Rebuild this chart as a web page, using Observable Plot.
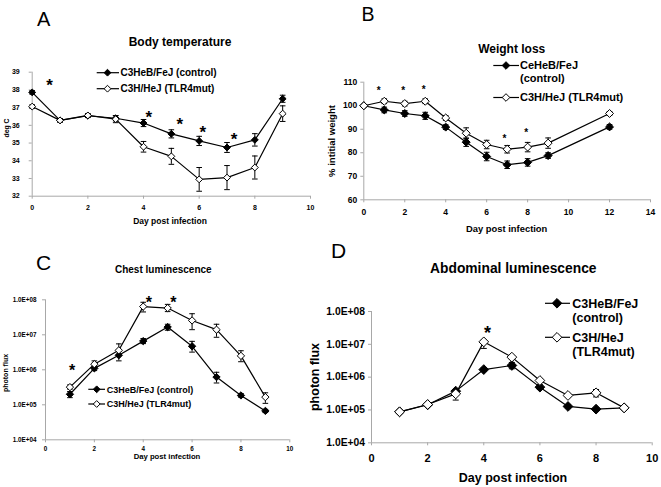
<!DOCTYPE html>
<html><head><meta charset="utf-8">
<script src="https://cdn.jsdelivr.net/npm/d3@7"></script>
<script src="https://cdn.jsdelivr.net/npm/@observablehq/plot@0.6"></script>
<style>
html,body{margin:0;padding:0;background:#fff;}
#wrap{position:relative;width:661px;height:487px;overflow:hidden;background:#fff;}
#wrap .pnl{position:absolute;}
#overlay{position:absolute;left:0;top:0;pointer-events:none;}
</style></head><body><div id="wrap"></div>
<script>
// ---------- Panel A: body temperature ----------
const tempDays = [0,1,2,3,4,5,6,7,8,9];
const tempControl = [37.86,36.28,36.54,36.4,36.13,35.52,35.12,34.75,35.18,37.5];
const tempControlErr = [0.1,0.1,0.1,0.15,0.2,0.23,0.26,0.28,0.35,0.2];
const tempMutant = [37.06,36.28,36.56,36.35,34.79,34.25,32.95,33.05,33.62,36.66];
const tempMutantErr = [0.1,0.1,0.1,0.2,0.3,0.45,0.67,0.68,0.65,0.44];
const tempStarX = [0.62,4.19,5.3,6.13,7.25];
const tempStarY = [38.48,36.7,36.3,35.85,35.44];

// ---------- Panel B: weight loss ----------
const weightDays = [0,1,2,3,4,5,6,7,8,9,12];
const weightControl = [100,98.2,96.7,95.7,90.9,84.5,78.4,74.9,75.9,78.8,91.0];
const weightControlErr = [0.5,1.2,1.2,1.5,1,1.8,1.8,1.6,1.6,1.2,1];
const weightMutant = [100,101.9,100.9,101.9,94.8,88.3,83.5,81.5,82.4,84.1,96.7];
const weightMutantErr = [0.5,1,1,1,1,2.3,1.8,1.6,2,2.2,0.8];
const weightStarX = [0.73,1.92,2.93,6.87,7.93];
const weightStarY = [107.3,107.3,108.0,86.9,89.8];

// ---------- Panel C: chest luminescence ----------
const lumDays = [1,2,3,4,5,6,7,8,9];
const chestControl = [2.0e5,1.1e6,2.6e6,6.6e6,1.66e7,4.7e6,6.2e5,1.85e5,6.7e4];
const chestControlLo = [1.6e5,9.5e5,1.8e6,5.6e6,1.35e7,3.2e6,4.2e5,1.65e5,6.0e4];
const chestControlHi = [2.4e5,1.3e6,3.4e6,7.8e6,2.0e7,6.5e6,8.5e5,2.1e5,7.4e4];
const chestMutant = [3.2e5,1.45e6,3.6e6,6.4e7,5.8e7,2.57e7,1.4e7,2.5e6,1.66e5];
const chestMutantLo = [2.8e5,1.2e6,2.7e6,4.5e7,4.6e7,1.4e7,8.5e6,1.7e6,1.1e5];
const chestMutantHi = [3.7e5,1.8e6,5.5e6,8.5e7,7.4e7,4.0e7,2.0e7,3.5e6,2.2e5];
const chestStarX = [1.09,4.23,5.23];
const chestStarY = [1.24e6,1.1e8,1.1e8];

// ---------- Panel D: abdominal luminescence ----------
const abdControl = [8.8e4,1.44e5,3.75e5,1.7e6,2.27e6,4.96e5,1.28e5,1.06e5,1.16e5];
const abdControlLo = [8.3e4,1.35e5,3.4e5,1.5e6,1.8e6,4.2e5,1.15e5,1.0e5,1.1e5];
const abdControlHi = [9.3e4,1.55e5,4.1e5,1.9e6,2.8e6,5.8e5,1.45e5,1.15e5,1.22e5];
const abdMutant = [8.8e4,1.47e5,3.1e5,1.19e7,4.07e6,7.9e5,2.77e5,3.33e5,1.16e5];
const abdMutantLo = [8.3e4,1.38e5,2.0e5,7.5e6,3.6e6,7.0e5,2.5e5,2.5e5,1.1e5];
const abdMutantHi = [9.3e4,1.57e5,3.8e5,1.35e7,4.5e6,9.0e5,3.1e5,4.2e5,1.22e5];
const abdStarX = [4.13];
const abdStarY = [3e7];

// ---------- tick labels ----------
const tempTicks = [32,33,34,35,36,37,38,39];
const weightTicks = [60,70,80,90,100,110];
const lumTicks = [1e4,1e5,1e6,1e7,1e8];
const dayTicks10 = [0,2,4,6,8,10];
const dayTicks14 = [0,2,4,6,8,10,12,14];
const plainFormat = d => String(d);
const lumFormat = d => "1.0E+0" + Math.round(Math.log10(d));

const FONT = '"Liberation Sans", Arial, sans-serif';
const axisGray = "#a8a8a8";
const capSymbol = {draw(ctx, size){ const w = Math.sqrt(size/Math.PI); ctx.moveTo(-w,0); ctx.lineTo(w,0); }};

function rowsFromErr(days, vals, err){ return days.map((d,i)=>({day:d, value:vals[i], lo:vals[i]-err[i], hi:vals[i]+err[i]})); }
function rowsFromLoHi(days, vals, lo, hi){ return days.map((d,i)=>({day:d, value:vals[i], lo:lo[i], hi:hi[i]})); }

function seriesMarks(rows, fill, cfg){
  return [
    Plot.ruleX(rows, {x:"day", y1:"lo", y2:"hi", stroke:"#000", strokeWidth:1}),
    Plot.dot(rows, {x:"day", y:"lo", symbol:capSymbol, r:cfg.cap, stroke:"#000", fill:"none", strokeWidth:1}),
    Plot.dot(rows, {x:"day", y:"hi", symbol:capSymbol, r:cfg.cap, stroke:"#000", fill:"none", strokeWidth:1}),
    Plot.line(rows, {x:"day", y:"value", stroke:"#000", strokeWidth:1.2}),
    Plot.dot(rows, {x:"day", y:"value", symbol:"diamond2", r:cfg.r, fill, stroke:"#000", strokeWidth:1})
  ];
}

function panel(cfg){
  const stars = cfg.starX.map((x,i)=>({x, y:cfg.starY[i]}));
  const p = Plot.plot({
    width: cfg.width, height: cfg.height,
    marginTop: cfg.m[0], marginRight: cfg.m[1], marginBottom: cfg.m[2], marginLeft: cfg.m[3],
    x: {domain: cfg.xDomain},
    y: {type: cfg.yType || "linear", domain: cfg.yDomain},
    style: {fontFamily: FONT, fontWeight: "bold", fontSize: cfg.tickFont + "px", color: "#000", background: "transparent", overflow: "visible"},
    marks: [
      Plot.ruleX([cfg.xDomain[0]], {stroke: axisGray}),
      Plot.ruleY([cfg.yDomain[0]], {stroke: axisGray}),
      Plot.axisX({ticks: cfg.xTicks, tickFormat: plainFormat, tickSize: 3, tickPadding: cfg.xPad, stroke: axisGray, fill: "#000", label: null, fontSize: cfg.xTickFont || cfg.tickFont}),
      Plot.axisY({ticks: cfg.yTicks, tickFormat: cfg.yFormat || plainFormat, tickSize: 3, tickPadding: cfg.yPad, stroke: axisGray, fill: "#000", label: null, fontSize: cfg.tickFont}),
      ...seriesMarks(cfg.control, "#000", cfg),
      ...seriesMarks(cfg.mutant, "#fff", cfg),
      Plot.text(stars, {x:"x", y:"y", text: () => "*", fontSize: cfg.starSize, fontWeight: "bold", fill: "#000", dy: cfg.starSize * 0.27})
    ]
  });
  const div = document.createElement("div");
  div.className = "pnl";
  div.style.left = cfg.left + "px";
  div.style.top = cfg.top + "px";
  div.appendChild(p);
  document.getElementById("wrap").appendChild(div);
}

panel({
  left: 0, top: 0, width: 330, height: 225, m: [71.7, 20, 29.3, 31.7],
  xDomain: [0,10], xTicks: dayTicks10, yDomain: [32,39], yTicks: tempTicks,
  tickFont: 7, xPad: 6, yPad: 9.5, r: 3.1, cap: 2.8, starSize: 17,
  control: rowsFromErr(tempDays, tempControl, tempControlErr),
  mutant: rowsFromErr(tempDays, tempMutant, tempMutantErr),
  starX: tempStarX, starY: tempStarY
});
panel({
  left: 330, top: 0, width: 331, height: 240, m: [81.7, 11, 40.7, 33.3],
  xDomain: [0,14], xTicks: dayTicks14, yDomain: [60,110], yTicks: weightTicks,
  tickFont: 8.5, xPad: 6, yPad: 3.5, r: 3.6, cap: 2.8, starSize: 10,
  control: rowsFromErr(weightDays, weightControl, weightControlErr),
  mutant: rowsFromErr(weightDays, weightMutant, weightMutantErr),
  starX: weightStarX, starY: weightStarY
});
panel({
  left: 0, top: 230, width: 330, height: 257, m: [69.3, 40.7, 47.7, 45],
  xDomain: [0,10], xTicks: dayTicks10, yType: "log", yDomain: [1e4,1e8], yTicks: lumTicks, yFormat: lumFormat,
  tickFont: 6.3, xPad: 3.5, yPad: 6, r: 3.3, cap: 2.8, starSize: 16,
  control: rowsFromLoHi(lumDays, chestControl, chestControlLo, chestControlHi),
  mutant: rowsFromLoHi(lumDays, chestMutant, chestMutantLo, chestMutantHi),
  starX: chestStarX, starY: chestStarY
});
panel({
  left: 330, top: 240, width: 331, height: 247, m: [71, 9.3, 44.7, 41],
  xDomain: [0,10], xTicks: dayTicks10, yType: "log", yDomain: [1e4,1e8], yTicks: lumTicks, yFormat: lumFormat,
  tickFont: 10.3, xTickFont: 11, xPad: 8, yPad: 3.5, r: 4.4, cap: 3, starSize: 18,
  control: rowsFromLoHi(lumDays, abdControl, abdControlLo, abdControlHi),
  mutant: rowsFromLoHi(lumDays, abdMutant, abdMutantLo, abdMutantHi),
  starX: abdStarX, starY: abdStarY
});

// ---------- overlay: letters, titles, axis titles, legends ----------
const svg = d3.select("#wrap").append("svg").attr("id","overlay").attr("width",661).attr("height",487)
  .style("font-family", FONT);

const letters = [
  {t:"A", x:37, y:26, s:20},
  {t:"B", x:361.5, y:20.7, s:19.5},
  {t:"C", x:36, y:269.5, s:21},
  {t:"D", x:331, y:258.3, s:21}
];
letters.forEach(d => svg.append("text").attr("x",d.x).attr("y",d.y).attr("font-size",d.s).attr("fill","#000").text(d.t));

const titles = [
  {t:"Body temperature", x:180, y:46, s:12},
  {t:"Weight loss", x:511.7, y:53, s:12},
  {t:"Chest luminescence", x:163.3, y:273.3, s:10},
  {t:"Abdominal luminescence", x:513.3, y:273.3, s:13.8}
];
titles.forEach(d => svg.append("text").attr("x",d.x).attr("y",d.y).attr("font-size",d.s)
  .attr("font-weight","bold").attr("text-anchor","middle").attr("fill","#000").text(d.t));

const xLabels = [
  {t:"Day post infection", x:170, y:224, s:8.5},
  {t:"Day post infection", x:506.7, y:231.5, s:9.4},
  {t:"Day post infection", x:167, y:459, s:7.7},
  {t:"Day post infection", x:513, y:482.3, s:12.5}
];
xLabels.forEach(d => svg.append("text").attr("x",d.x).attr("y",d.y).attr("font-size",d.s)
  .attr("font-weight","bold").attr("text-anchor","middle").attr("fill","#000").text(d.t));

const yLabels = [
  {t:"deg C", x:7, y:128, s:6.8},
  {t:"% intitial weight", x:332, y:141, s:9.5},
  {t:"photon flux", x:6, y:373, s:7},
  {t:"photon flux", x:315, y:377, s:12.5}
];
yLabels.forEach(d => svg.append("text").attr("transform",`translate(${d.x},${d.y}) rotate(-90)`)
  .attr("dy","0.35em").attr("font-size",d.s).attr("font-weight","bold").attr("text-anchor","middle").attr("fill","#000").text(d.t));

const legends = [
  {x1:96.7, x2:119, mx:107.5, tx:120.5, s:10, ms:3.4, lh:12, items:[
    {y:72.7, filled:true, lines:["C3HeB/FeJ (control)"]},
    {y:88.7, filled:false, lines:["C3H/HeJ (TLR4mut)"]}]},
  {x1:493.3, x2:519, mx:506, tx:520, s:11, ms:3.8, lh:13, items:[
    {y:65.5, filled:true, lines:["CeHeB/FeJ","(control)"]},
    {y:97.5, filled:false, lines:["C3H/HeJ (TLR4mut)"]}]},
  {x1:88.3, x2:105, mx:96.7, tx:106.7, s:9, ms:3.4, lh:11, items:[
    {y:389.3, filled:true, lines:["C3HeB/FeJ (control)"]},
    {y:404, filled:false, lines:["C3H/HeJ (TLR4mut)"]}]},
  {x1:545, x2:570, mx:557, tx:572.3, s:12.5, ms:4.8, lh:14.4, items:[
    {y:303.3, filled:true, lines:["C3HeB/FeJ","(control)"]},
    {y:337.3, filled:false, lines:["C3H/HeJ","(TLR4mut)"]}]}
];
legends.forEach(L => {
  L.items.forEach(it => {
    svg.append("line").attr("x1",L.x1).attr("x2",L.x2).attr("y1",it.y).attr("y2",it.y).attr("stroke","#000").attr("stroke-width",1.2);
    const s = L.ms;
    svg.append("path").attr("d",`M${L.mx},${it.y-s}L${L.mx+s},${it.y}L${L.mx},${it.y+s}L${L.mx-s},${it.y}Z`)
      .attr("fill", it.filled ? "#000" : "#fff").attr("stroke","#000").attr("stroke-width",1);
    it.lines.forEach((ln,i) => svg.append("text").attr("x",L.tx).attr("y",it.y + 0.36*L.s + i*L.lh)
      .attr("font-size",L.s).attr("font-weight","bold").attr("fill","#000").text(ln));
  });
});
</script></body></html>
